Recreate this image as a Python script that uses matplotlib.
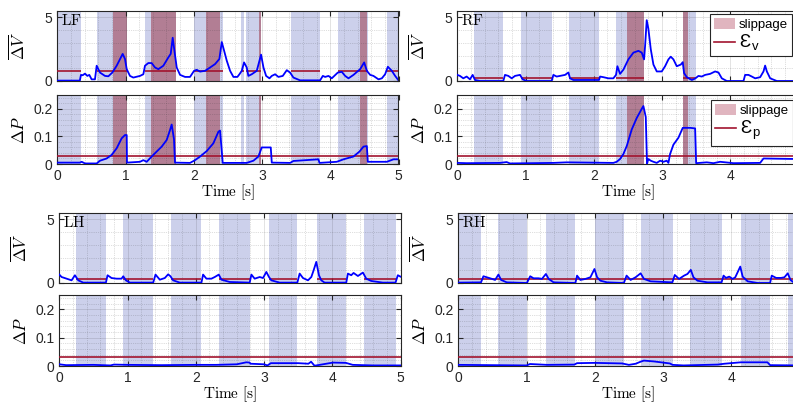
import matplotlib
matplotlib.use('Agg')
import matplotlib.pyplot as plt
from matplotlib.patches import Patch
from matplotlib.lines import Line2D
from matplotlib.ticker import MultipleLocator

plt.rcParams['font.family'] = ['Liberation Sans', 'DejaVu Sans']
plt.rcParams['mathtext.fontset'] = 'cm'

# (time [s], value)
lf_dv = [(0.00, 0.03), (0.33, 0.03), (0.347, 0.48), (0.371, 0.45), (0.406, 0.58), (0.44, 0.40),
         (0.469, 0.48), (0.503, 0.13), (0.552, 0.13), (0.577, 1.2), (0.626, 0.66), (0.699, 0.40),
         (0.748, 0.37), (0.806, 0.66), (0.870, 1.2), (0.958, 2.13), (0.992, 1.73), (1.017, 0.93),
         (1.065, 0.40), (1.114, 0.27), (1.212, 0.40), (1.261, 0.53), (1.285, 1.2), (1.334, 1.41),
         (1.383, 1.41), (1.432, 1.06), (1.481, 0.93), (1.554, 1.2), (1.628, 1.86), (1.662, 2.13),
         (1.691, 3.40), (1.716, 2.39), (1.750, 1.06), (1.799, 0.48), (1.872, 0.32), (1.945, 0.32),
         (2.004, 0.80), (2.043, 0.88), (2.092, 0.74), (2.165, 0.80), (2.239, 1.06), (2.312, 1.33),
         (2.375, 1.73), (2.41, 3.06), (2.444, 2.39), (2.483, 1.60), (2.532, 0.80), (2.581, 0.32),
         (2.639, 0.32), (2.669, 0.53), (2.703, 0.80), (2.737, 1.46), (2.776, 1.06), (2.80, 0.40),
         (2.849, 0.53), (2.923, 0.80), (2.986, 2.07), (3.021, 1.06), (3.06, 0.40), (3.109, 0.21),
         (3.143, 0.40), (3.192, 0.53), (3.24, 0.32), (3.304, 0.40), (3.363, 0.85), (3.412, 0.66),
         (3.46, 0.27), (3.558, 0.05), (3.754, 0.05), (3.851, 0.05), (3.891, 0.40), (3.925, 0.32),
         (3.974, 0.40), (4.022, 0.21), (4.11, 0.66), (4.169, 0.72), (4.218, 0.40), (4.267, 0.21),
         (4.34, 0.48), (4.438, 0.93), (4.497, 1.46), (4.536, 0.80), (4.585, 0.48), (4.633, 0.40),
         (4.707, 0.13), (4.756, 0.21), (4.804, 0.53), (4.844, 1.12), (4.902, 0.80), (4.951, 0.40),
         (5.0, 0.05)]
lf_dp = [(0.0, 0.005), (0.33, 0.005), (0.357, 0.008), (0.406, 0.002), (0.577, 0.002), (0.626, 0.012),
         (0.723, 0.02), (0.797, 0.033), (0.87, 0.057), (0.943, 0.093), (0.992, 0.105), (1.017, 0.105),
         (1.021, 0.005), (1.212, 0.008), (1.261, 0.014), (1.31, 0.008), (1.383, 0.027), (1.456, 0.045),
         (1.53, 0.063), (1.603, 0.087), (1.652, 0.123), (1.676, 0.143), (1.71, 0.09), (1.725, 0.005),
         (1.945, 0.004), (2.019, 0.014), (2.092, 0.027), (2.19, 0.047), (2.287, 0.075), (2.361, 0.117),
         (2.385, 0.121), (2.424, 0.004), (2.776, 0.004), (2.874, 0.012), (2.947, 0.027), (2.996, 0.06),
         (3.128, 0.06), (3.143, 0.005), (3.412, 0.004), (3.46, 0.011), (3.827, 0.017), (3.842, 0.004),
         (4.096, 0.008), (4.194, 0.017), (4.34, 0.027), (4.428, 0.045), (4.487, 0.063), (4.536, 0.065),
         (4.55, 0.008), (4.829, 0.008), (4.927, 0.017), (5.0, 0.017)]

rf_dv = [(0.0, 0.48), (0.039, 0.40), (0.088, 0.21), (0.137, 0.35), (0.186, 0.13), (0.225, 0.48),
         (0.259, 0.08), (0.332, 0.0), (0.674, 0.0), (0.699, 0.48), (0.748, 0.40), (0.797, 0.21),
         (0.846, 0.40), (0.919, 0.48), (0.958, 0.13), (1.017, 0.0), (1.383, 0.0), (1.408, 0.48),
         (1.456, 0.35), (1.505, 0.40), (1.579, 0.48), (1.628, 0.67), (1.652, 0.21), (1.701, 0.08),
         (2.077, 0.08), (2.092, 0.35), (2.141, 0.30), (2.214, 0.21), (2.287, 0.21), (2.326, 0.48),
         (2.346, 1.16), (2.385, 0.56), (2.434, 0.89), (2.507, 1.70), (2.581, 2.23), (2.654, 2.37),
         (2.703, 2.23), (2.737, 1.70), (2.752, 2.77), (2.776, 4.78), (2.80, 4.11), (2.835, 2.5),
         (2.874, 1.29), (2.923, 0.75), (2.996, 0.75), (3.045, 1.16), (3.094, 1.70), (3.128, 1.91),
         (3.167, 1.70), (3.216, 1.16), (3.275, 1.29), (3.304, 1.48), (3.323, 0.62), (3.363, 0.30),
         (3.436, 0.08), (3.485, 0.19), (3.534, 0.40), (3.583, 0.35), (3.632, 0.48), (3.705, 0.56),
         (3.778, 0.75), (3.827, 0.67), (3.876, 0.21), (3.949, 0.0), (4.194, 0.0), (4.218, 0.48),
         (4.267, 0.48), (4.316, 0.35), (4.365, 0.21), (4.438, 0.30), (4.487, 0.75), (4.511, 1.21),
         (4.536, 0.75), (4.585, 0.21), (4.682, 0.0), (5.0, 0.0)]
rf_dp = [(0.0, 0.004), (0.137, 0.003), (0.626, 0.004), (0.723, 0.007), (0.772, 0.002), (1.408, 0.004),
         (1.603, 0.006), (2.287, 0.004), (2.336, 0.008), (2.385, 0.018), (2.434, 0.036), (2.483, 0.065),
         (2.556, 0.125), (2.63, 0.167), (2.703, 0.2), (2.727, 0.21), (2.762, 0.17), (2.78, 0.002),
         (2.80, 0.018), (2.835, 0.012), (2.874, 0.008), (2.923, 0.004), (2.972, 0.012), (3.021, 0.008),
         (3.069, 0.012), (3.094, 0.004), (3.118, 0.036), (3.167, 0.07), (3.24, 0.095), (3.304, 0.131),
         (3.412, 0.131), (3.485, 0.129), (3.50, 0.003), (3.656, 0.006), (3.754, 0.003), (3.851, 0.008),
         (4.047, 0.003), (4.438, 0.004), (4.487, 0.02), (5.0, 0.018)]

lh_dv = [(0.0, 0.66), (0.034, 0.47), (0.107, 0.34), (0.18, 0.21), (0.229, 0.61), (0.278, 0.21),
         (0.351, 0.03), (0.683, 0.03), (0.707, 0.61), (0.766, 0.39), (0.839, 0.34), (0.912, 0.34),
         (0.937, 0.53), (0.976, 0.21), (1.034, 0.03), (1.376, 0.03), (1.41, 0.66), (1.473, 0.26),
         (1.546, 0.39), (1.595, 0.68), (1.629, 0.53), (1.668, 0.21), (1.766, 0.03), (2.083, 0.03),
         (2.107, 0.66), (2.156, 0.34), (2.229, 0.34), (2.278, 0.47), (2.337, 0.66), (2.376, 0.26),
         (2.498, 0.08), (2.79, 0.03), (2.815, 0.66), (2.863, 0.34), (2.937, 0.47), (2.985, 0.39),
         (3.034, 0.87), (3.073, 0.47), (3.107, 0.21), (3.229, 0.03), (3.488, 0.03), (3.522, 0.74),
         (3.571, 0.39), (3.644, 0.21), (3.693, 0.47), (3.727, 1.0), (3.766, 1.66), (3.805, 0.61),
         (3.839, 0.21), (3.888, 0.03), (4.205, 0.03), (4.229, 0.74), (4.278, 0.61), (4.312, 0.79),
         (4.376, 0.55), (4.449, 0.82), (4.498, 0.34), (4.571, 0.16), (4.741, 0.03), (4.927, 0.03),
         (4.961, 0.61), (5.0, 0.5)]
lh_dp = [(0.0, 0.006), (0.1, 0.003), (0.5, 0.004), (0.75, 0.002), (0.8, 0.005), (1.0, 0.004),
         (1.5, 0.003), (2.0, 0.004), (2.3, 0.004), (2.6, 0.006), (2.74, 0.013), (2.79, 0.012),
         (2.8, 0.008), (3.0, 0.006), (3.05, 0.002), (3.1, 0.01), (3.5, 0.01), (3.65, 0.008),
         (3.69, 0.015), (3.74, 0.001), (4.01, 0.012), (4.2, 0.011), (4.3, 0.004), (4.6, 0.002),
         (5.0, 0.002)]

rh_dv = [(0.0, 0.03), (0.333, 0.05), (0.368, 0.53), (0.417, 0.45), (0.466, 0.37), (0.539, 0.24),
         (0.588, 0.66), (0.627, 0.24), (0.711, 0.05), (1.005, 0.0), (1.054, 0.53), (1.103, 0.37),
         (1.176, 0.37), (1.225, 0.32), (1.284, 0.71), (1.324, 0.32), (1.397, 0.05), (1.716, 0.0),
         (1.74, 0.58), (1.789, 0.24), (1.863, 0.32), (1.936, 0.45), (1.995, 1.1), (2.034, 0.45),
         (2.083, 0.18), (2.181, 0.05), (2.426, 0.0), (2.466, 0.58), (2.525, 0.24), (2.598, 0.45),
         (2.672, 0.76), (2.721, 0.32), (2.819, 0.13), (3.137, 0.05), (3.172, 0.63), (3.235, 0.32),
         (3.309, 0.58), (3.358, 0.71), (3.407, 1.03), (3.446, 0.45), (3.505, 0.18), (3.652, 0.05),
         (3.858, 0.05), (3.887, 0.58), (3.922, 0.40), (3.971, 0.50), (4.02, 0.32), (4.059, 0.45),
         (4.132, 1.29), (4.167, 0.50), (4.24, 0.13), (4.387, 0.0), (4.569, 0.0), (4.593, 0.58),
         (4.657, 0.40), (4.73, 0.40), (4.779, 0.45), (4.828, 0.76), (4.868, 0.24), (4.926, 0.0),
         (5.0, 0.0)]
rh_dp = [(0.0, 0.004), (0.5, 0.003), (1.0, 0.002), (1.05, 0.007), (1.3, 0.004), (1.7, 0.005),
         (1.74, 0.01), (2.0, 0.011), (2.4, 0.009), (2.5, 0.004), (2.6, 0.008), (2.67, 0.015),
         (2.72, 0.019), (2.87, 0.016), (3.1, 0.009), (3.14, 0.004), (3.3, 0.002), (3.8, 0.005),
         (3.9, 0.008), (4.14, 0.013), (4.53, 0.013), (4.57, 0.003), (5.0, 0.002)]

# stance phases (blue) and detected slippage (red), [start, end] in s
lf_stance = [(0, 0.35), (0.58, 1.02), (1.29, 1.675), (1.685, 1.74), (2.0, 2.43), (2.69, 2.74),
             (2.77, 2.98), (3.43, 3.85), (4.11, 4.56), (4.83, 5.0)]
lf_slip = [(0.81, 1.02), (1.37, 1.675), (1.685, 1.74), (2.18, 2.39), (2.95, 2.98), (4.43, 4.54)]
rf_stance = [(0.244, 0.674), (0.933, 1.383), (1.637, 2.077), (2.326, 2.737), (3.304, 3.5)]
rf_slip = [(2.493, 2.737), (3.304, 3.377)]
lh_stance = [(0.244, 0.683), (0.937, 1.38), (1.63, 2.08), (2.34, 2.79), (3.07, 3.49),
             (3.78, 4.2), (4.47, 4.93)]
lh_slip = []
rh_stance = [(0, 0.333), (0.588, 1.005), (1.284, 1.716), (2.0, 2.43), (2.67, 3.14), (3.4, 3.86),
             (4.14, 4.57), (4.83, 5.0)]
rh_slip = []

# thresholds
eps_v = {'LF': 0.8, 'RF': 0.27, 'LH': 0.33, 'RH': 0.3}
eps_p = 0.03

STANCE = '#ccd0eb'
SLIP = '#b27e94'
SLIP_LEG = '#e0b5bf'
THR = '#a2142f'
DARK = '#262626'
W, H = 793, 403


def rect(x0, y0, x1, y1):
    return [x0 / W, 1 - y1 / H, (x1 - x0) / W, (y1 - y0) / H]


def style(ax, is_v, show_x, xmax_label):
    ax.set_xlim(0, 5)
    ax.set_xticks(range(xmax_label + 1))
    ax.xaxis.set_minor_locator(MultipleLocator(0.2))
    if is_v:
        ax.set_ylim(0, 5.5)
        ax.set_yticks([0, 5])
        ax.set_yticklabels(['0', '5'])
        ax.yaxis.set_minor_locator(MultipleLocator(1))
        ax.set_ylabel(r'$\overline{\Delta V}$', fontsize=12)
    else:
        ax.set_ylim(0, 0.25)
        ax.set_yticks([0, 0.1, 0.2])
        ax.set_yticklabels(['0', '0.1', '0.2'])
        ax.yaxis.set_minor_locator(MultipleLocator(0.02))
        ax.set_ylabel(r'$\Delta P$', fontsize=12)
    ax.yaxis.set_label_coords(-0.088, 0.5)
    ax.set_axisbelow(False)
    ax.grid(which='major', color=DARK, alpha=0.15, lw=0.6)
    ax.grid(which='minor', color=DARK, alpha=0.3, lw=0.5, ls=':')
    ax.tick_params(which='both', direction='in', top=True, right=True, colors=DARK, labelsize=10)
    ax.tick_params(which='major', length=3.5, width=0.8, pad=3.5)
    ax.tick_params(which='minor', length=0)
    if not show_x:
        ax.tick_params(labelbottom=False)
    for s in ax.spines.values():
        s.set_color(DARK)
        s.set_linewidth(0.8)


def draw_leg(ax_v, ax_p, name, dv, dp, stance, slip, full_eps_v, right_col):
    for ax in (ax_v, ax_p):
        for a, b in stance:
            ax.axvspan(a, b, color=STANCE, lw=0, zorder=0.5)
        for a, b in slip:
            ax.axvspan(a, b, color=SLIP, lw=0, zorder=0.6)
    t, v = zip(*dv)
    ax_v.plot(t, v, color='#0000ff', lw=1.3, zorder=3)
    t, p = zip(*dp)
    ax_p.plot(t, p, color='#0000ff', lw=1.3, zorder=3)
    if full_eps_v:
        ax_v.axhline(eps_v[name], color=THR, lw=1.2, zorder=2.8)
    else:
        ax_v.hlines([eps_v[name]] * len(stance), [a for a, b in stance], [b for a, b in stance],
                    color=THR, lw=1.2, zorder=2.8)
    ax_p.axhline(eps_p, color=THR, lw=1.2, zorder=2.8)
    xmax_label = 4 if right_col else 5
    style(ax_v, True, False, xmax_label)
    style(ax_p, False, True, xmax_label)
    ax_v.text(0.012, 0.965, r'$\mathrm{%s}$' % name, transform=ax_v.transAxes,
              ha='left', va='top', fontsize=11, zorder=5)


def add_legends(ax_v, ax_p):
    prop = {'family': ['Liberation Sans', 'DejaVu Sans'], 'size': 9.5}
    for ax, sub, anchor in ((ax_v, 'v', (0.981, 0.957)), (ax_p, 'p', (0.983, 0.928))):
        handles = [Patch(facecolor=SLIP_LEG, edgecolor='none', label='slippage'),
                   Line2D([0], [0], color=THR, lw=1.2, label='Ɛ$_\\mathregular{%s}$' % sub)]
        leg = ax.legend(handles=handles, loc='upper right', bbox_to_anchor=anchor,
                        borderaxespad=0, fancybox=False, framealpha=1, edgecolor=DARK,
                        prop=prop, handlelength=1.6, handleheight=0.9,
                        handletextpad=0.3, borderpad=0.3, labelspacing=0.1)
        leg.get_texts()[1].set_fontsize(13.5)
        leg.get_frame().set_linewidth(0.8)
        leg.set_zorder(6)


fig = plt.figure(figsize=(W / 100, H / 100), dpi=100)

ax_lf_v = fig.add_axes(rect(57.3, 11, 398.5, 81))
ax_lf_p = fig.add_axes(rect(57.3, 95, 398.5, 164))
ax_rf_v = fig.add_axes(rect(457.3, 11, 798.5, 81))
ax_rf_p = fig.add_axes(rect(457.3, 95, 798.5, 164))
ax_lh_v = fig.add_axes(rect(59.3, 213, 400.5, 283))
ax_lh_p = fig.add_axes(rect(59.3, 295, 400.5, 366))
ax_rh_v = fig.add_axes(rect(458.3, 213, 799.5, 283))
ax_rh_p = fig.add_axes(rect(458.3, 295, 799.5, 366))

draw_leg(ax_lf_v, ax_lf_p, 'LF', lf_dv, lf_dp, lf_stance, lf_slip, False, False)
draw_leg(ax_rf_v, ax_rf_p, 'RF', rf_dv, rf_dp, rf_stance, rf_slip, False, True)
draw_leg(ax_lh_v, ax_lh_p, 'LH', lh_dv, lh_dp, lh_stance, lh_slip, False, False)
draw_leg(ax_rh_v, ax_rh_p, 'RH', rh_dv, rh_dp, rh_stance, rh_slip, True, True)
add_legends(ax_rf_v, ax_rf_p)

for xc, yc in ((228, 192), (628, 192), (230, 394), (628, 394)):
    fig.text(xc / W, 1 - yc / H, r'$\mathrm{Time\ [s]}$', ha='center', va='center', fontsize=11)

fig.savefig('out.png', dpi=100)
